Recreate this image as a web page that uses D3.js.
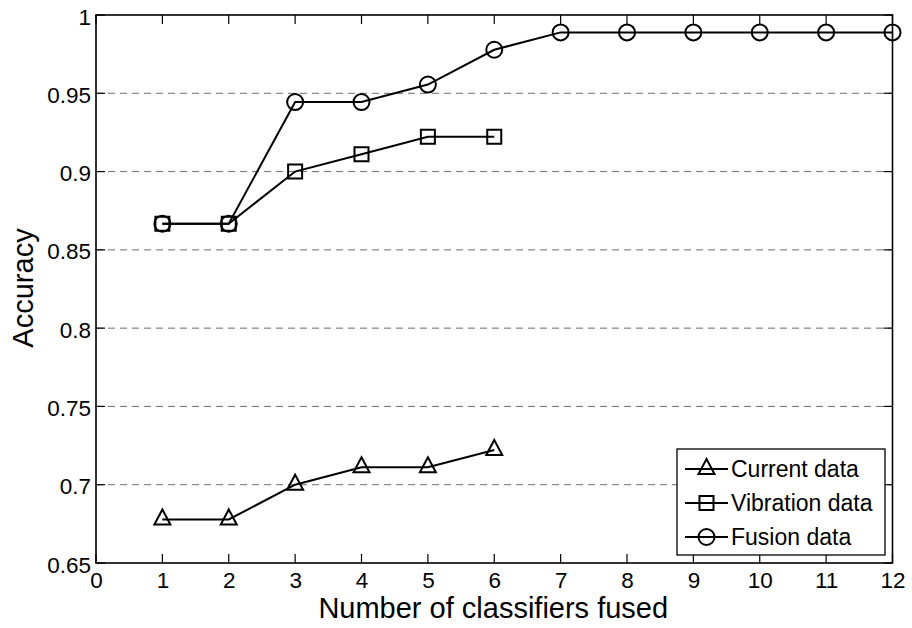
<!DOCTYPE html>
<html>
<head>
<meta charset="utf-8">
<script src="https://cdn.jsdelivr.net/npm/d3@7"></script>
<style>
  body { margin: 0; background: #fff; }
  svg { display: block; }
  svg text { font-family: "Liberation Sans", Arial, sans-serif; }
</style>
</head>
<body>
<svg id="chart" width="912" height="628"></svg>
<script>
// number of classifiers fused (x positions)
const classifiers = [1, 2, 3, 4, 5, 6, 7, 8, 9, 10, 11, 12];

// accuracy per series
const currentAcc = [0.6778, 0.6778, 0.7, 0.7111, 0.7111, 0.7222];
const vibrationAcc = [0.8667, 0.8667, 0.9, 0.9111, 0.9222, 0.9222];
const fusionAcc = [0.8667, 0.8667, 0.9444, 0.9444, 0.9556, 0.9778, 0.9889, 0.9889, 0.9889, 0.9889, 0.9889, 0.9889];

const seriesNames = ['Current data', 'Vibration data', 'Fusion data'];
const seriesMarkers = ['triangle', 'square', 'circle'];

const xTicks = d3.range(0, 13);
const yTicks = [0.65, 0.7, 0.75, 0.8, 0.85, 0.9, 0.95, 1];

const svg = d3.select('#chart');

const x = d3.scaleLinear().domain([0, 12]).range([96, 892.5]);
const y = d3.scaleLinear().domain([0.65, 1]).range([563, 15]);

// horizontal dashed grid
svg.append('g')
  .selectAll('line')
  .data(yTicks.filter(d => d > 0.65 && d < 1))
  .join('line')
  .attr('x1', x(0)).attr('x2', x(12))
  .attr('y1', d => y(d)).attr('y2', d => y(d))
  .attr('stroke', '#6e6e6e')
  .attr('stroke-width', 1)
  .attr('stroke-dasharray', '7,5');

// tick labels from d3 axes (tick lines drawn separately below)
const axisBottom = d3.axisBottom(x).tickValues(xTicks).tickSize(0).tickPadding(12).tickFormat(d3.format('d'));
const axisLeft = d3.axisLeft(y).tickValues(yTicks).tickSize(0).tickPadding(5).tickFormat(d => d3.format('')(d));

function styleAxis(g) {
  g.attr('font-family', null).attr('font-size', null);
  g.select('.domain').remove();
  g.selectAll('.tick line').remove();
  g.selectAll('.tick text').attr('fill', '#000').style('font-size', '22.5px');
}

svg.append('g').attr('transform', `translate(0,${y(0.65)})`).call(axisBottom).call(styleAxis)
  .selectAll('.tick text').attr('dy', 13);
svg.append('g').attr('transform', `translate(${x(0)},0)`).call(axisLeft).call(styleAxis)
  .selectAll('.tick text').attr('dy', 9);

// inward ticks on all four sides
const tickLen = 9;
const ticks = svg.append('g').attr('stroke', '#000').attr('stroke-width', 1.2);
xTicks.forEach(t => {
  ticks.append('line').attr('x1', x(t)).attr('x2', x(t)).attr('y1', y(0.65)).attr('y2', y(0.65) - tickLen);
  ticks.append('line').attr('x1', x(t)).attr('x2', x(t)).attr('y1', y(1)).attr('y2', y(1) + tickLen);
});
yTicks.forEach(t => {
  ticks.append('line').attr('x1', x(0)).attr('x2', x(0) + tickLen).attr('y1', y(t)).attr('y2', y(t));
  ticks.append('line').attr('x1', x(12)).attr('x2', x(12) - tickLen).attr('y1', y(t)).attr('y2', y(t));
});

// plot frame
svg.append('rect')
  .attr('x', x(0)).attr('y', y(1))
  .attr('width', x(12) - x(0)).attr('height', y(0.65) - y(1))
  .attr('fill', 'none')
  .attr('stroke', '#000')
  .attr('stroke-width', 1.6);

// axis titles
svg.append('text')
  .attr('x', (x(0) + x(12)) / 2 - 1)
  .attr('y', 618)
  .attr('text-anchor', 'middle')
  .style('font-size', '29px')
  .text('Number of classifiers fused');

svg.append('text')
  .attr('transform', `translate(33,${(y(0.65) + y(1)) / 2 - 1}) rotate(-90)`)
  .attr('text-anchor', 'middle')
  .style('font-size', '29px')
  .text('Accuracy');

// marker paths centred on the point
function markerPath(type) {
  if (type === 'triangle') return 'M0,-10L8,5L-8,5Z';
  if (type === 'square') return 'M-7,-7H7V7H-7Z';
  return d3.symbol(d3.symbolCircle, Math.PI * 8 * 8)();
}

const allSeries = [currentAcc, vibrationAcc, fusionAcc];
const line = d3.line().x((d, i) => x(classifiers[i])).y(d => y(d));

allSeries.forEach((vals, k) => {
  const g = svg.append('g');
  g.append('path')
    .attr('d', line(vals))
    .attr('fill', 'none')
    .attr('stroke', '#000')
    .attr('stroke-width', 2);
  g.selectAll('path.mk')
    .data(vals)
    .join('path')
    .attr('class', 'mk')
    .attr('transform', (d, i) => `translate(${x(classifiers[i])},${y(d)})`)
    .attr('d', markerPath(seriesMarkers[k]))
    .attr('fill', 'none')
    .attr('stroke', '#000')
    .attr('stroke-width', 2);
});

// legend box in the lower right
const legend = svg.append('g');
legend.append('rect')
  .attr('x', 677).attr('y', 449)
  .attr('width', 208).attr('height', 106)
  .attr('fill', '#fff')
  .attr('stroke', '#000')
  .attr('stroke-width', 1.3);

seriesNames.forEach((name, k) => {
  const ly = 469 + k * 34;
  legend.append('line')
    .attr('x1', 685).attr('x2', 728)
    .attr('y1', ly).attr('y2', ly)
    .attr('stroke', '#000').attr('stroke-width', 2);
  legend.append('path')
    .attr('transform', `translate(706.5,${ly})`)
    .attr('d', markerPath(seriesMarkers[k]))
    .attr('fill', 'none')
    .attr('stroke', '#000')
    .attr('stroke-width', 2);
  legend.append('text')
    .attr('x', 731).attr('y', ly + 8)
    .style('font-size', '23px')
    .text(name);
});
</script>
</body>
</html>
